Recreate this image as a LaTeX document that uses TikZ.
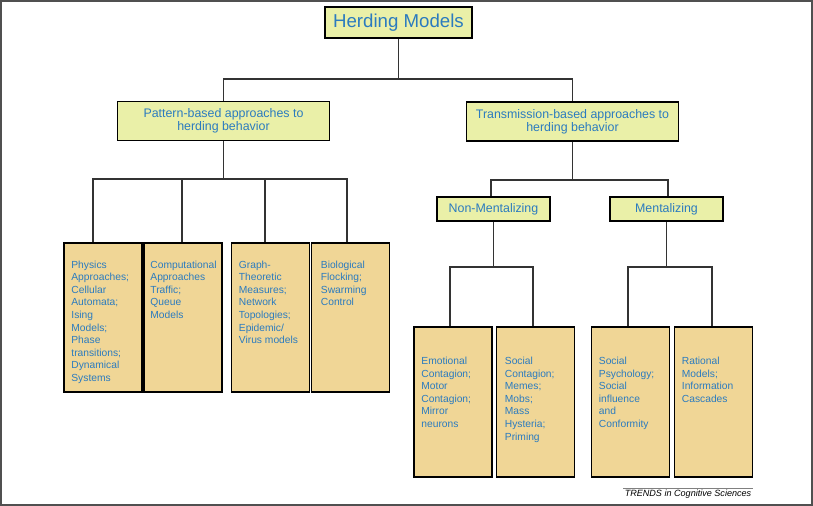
\documentclass[tikz,border=0pt]{standalone}
\usepackage{fontspec}
\setmainfont{Liberation Sans}
\usepackage{xcolor}
\definecolor{headfill}{RGB}{234,240,168}
\definecolor{leaffill}{RGB}{240,214,150}
\definecolor{txtblue}{RGB}{43,123,191}
\definecolor{wirecol}{RGB}{51,51,51}
\definecolor{framecol}{RGB}{80,80,80}

\begin{document}
\begin{tikzpicture}[x=0.75pt,y=-0.75pt]
\tikzstyle{headbox} =[draw=black, line width=1.3pt, fill=headfill, text=txtblue, align=center, inner sep=0pt]
\tikzstyle{topbox} =[headbox, minimum width=110.25pt, minimum height=23.25pt, font=\fontsize{14}{16}\selectfont]
\tikzstyle{subbox} =[headbox, minimum width=159pt, minimum height=29.25pt, font=\fontsize{9.3}{10}\selectfont]
\tikzstyle{midbox} =[headbox, minimum width=84.75pt, minimum height=18pt, font=\fontsize{9.3}{10}\selectfont]
\tikzstyle{leafbox} =[draw=black, line width=1.3pt, fill=leaffill, minimum width=58.5pt, inner sep=0pt]
\tikzstyle{leaftext} =[anchor=north west, inner sep=0pt, text=txtblue, align=left, font=\fontsize{7.7}{9.4}\selectfont]
\tikzstyle{wire} =[draw=wirecol, line width=1.45pt]
\useasboundingbox (0,0) rectangle (813,506);
\draw[framecol, line width=1.5pt] (1,1) rectangle (812,505);
% top of the tree
\node[topbox](top) at (398.5,22.5){Herding Models};
\node[subbox](pat) at (223.5,121){Pattern-based approaches to\\herding behavior};
\node[subbox](trans) at (572.5,121.5){Transmission-based approaches to\\herding behavior};
\node[midbox](nonm) at (493.5,209){Non-Mentalizing};
\node[midbox](ment) at (666.5,209){Mentalizing};
% leaves
\node[leafbox, minimum height=111.75pt](b1) at (103,317.5){};
\node[leafbox, minimum height=111.75pt](b2) at (183,317.5){};
\node[leafbox, minimum height=111.75pt](b3) at (270.5,317.5){};
\node[leafbox, minimum height=111.75pt](b4) at (350.5,317.5){};
\node[leafbox, minimum height=112.5pt](b5) at (453,402){};
\node[leafbox, minimum height=112.5pt](b6) at (535.5,402){};
\node[leafbox, minimum height=112.5pt](b7) at (630.5,402){};
\node[leafbox, minimum height=112.5pt](b8) at (713.5,402){};
\node[leaftext](t1) at ([shift={(8,18.5)}]b1.north west){Physics\\Approaches;\\Cellular\\Automata;\\Ising\\Models;\\Phase\\transitions;\\Dynamical\\Systems};
\node[leaftext](t2) at ([shift={(7,18.5)}]b2.north west){Computational\\Approaches\\Traffic;\\Queue\\Models};
\node[leaftext](t3) at ([shift={(8,18.5)}]b3.north west){Graph-\\Theoretic\\Measures;\\Network\\Topologies;\\Epidemic/\\Virus models};
\node[leaftext](t4) at ([shift={(10,18.5)}]b4.north west){Biological\\Flocking;\\Swarming\\Control};
\node[leaftext](t5) at ([shift={(8,31)}]b5.north west){Emotional\\Contagion;\\Motor\\Contagion;\\Mirror\\neurons};
\node[leaftext](t6) at ([shift={(9,31)}]b6.north west){Social\\Contagion;\\Memes;\\Mobs;\\Mass\\Hysteria;\\Priming};
\node[leaftext](t7) at ([shift={(8,31)}]b7.north west){Social\\Psychology;\\Social\\influence\\and\\Conformity};
\node[leaftext](t8) at ([shift={(8,31)}]b8.north west){Rational\\Models;\\Information\\Cascades};
% connectors
\draw[wire] (top.south) -- ++(0,40) -| (pat.north);
\draw[wire] (top.south) -- ++(0,40) -| (trans.north);
\draw[wire] (pat.south) -- ++(0,38) -| ([xshift=-7.5pt]b1.north);
\draw[wire] (pat.south) -- ++(0,38) -| ([xshift=-0.75pt]b2.north);
\draw[wire] (pat.south) -- ++(0,38) -| ([xshift=-4pt]b3.north);
\draw[wire] (pat.south) -- ++(0,38) -| ([xshift=-2.6pt]b4.north);
\draw[wire] (trans.south) -- ++(0,38) -| ([xshift=-2pt]nonm.north);
\draw[wire] (trans.south) -- ++(0,38) -| ([xshift=1pt]ment.north);
\draw[wire] (nonm.south) -- ++(0,45) -| ([xshift=-2.2pt]b5.north);
\draw[wire] (nonm.south) -- ++(0,45) -| ([xshift=-2pt]b6.north);
\draw[wire] (ment.south) -- ++(0,45) -| ([xshift=-2pt]b7.north);
\draw[wire] (ment.south) -- ++(0,45) -| ([xshift=-1.2pt]b8.north);
% source line
\node[inner sep=1pt, font=\fontsize{6.8}{8}\selectfont\itshape](trends) at (688,494){TRENDS in Cognitive Sciences};
\draw[gray, line width=0.5pt] (trends.north west) -- (trends.north east);
\end{tikzpicture}
\end{document}
